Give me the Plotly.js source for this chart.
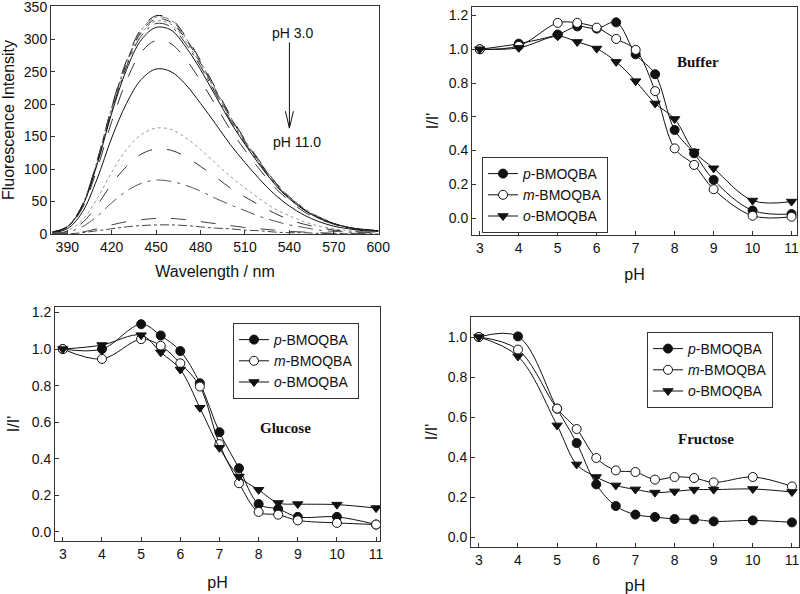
<!DOCTYPE html>
<html>
<head>
<meta charset="utf-8">
<script src="https://cdn.plot.ly/plotly-3.0.1.min.js"></script>
<style>
  html, body { margin: 0; padding: 0; background: #fff; }
  #plot { width: 800px; height: 594px; }
</style>
</head>
<body>
<div id="plot"></div>
<script>
// emission spectra, one per pH step (3.0 -> 11.0)
const wl = [380, 390, 400, 410, 420, 430, 440, 450, 460, 470, 480, 490, 500, 510, 520, 530, 540, 550, 560, 570, 580, 590, 600];
const sp30 = [3, 11, 44, 112, 196, 267, 316, 336, 331, 304, 267, 225, 183, 145, 112, 81, 57, 39, 26, 17, 10, 7, 5];
const sp40 = [3, 11, 44, 111, 195, 265, 314, 334, 329, 302, 265, 223, 181, 144, 111, 81, 57, 39, 26, 16, 10, 7, 5];
const sp50 = [3, 11, 43, 110, 193, 263, 311, 331, 326, 300, 263, 221, 180, 143, 110, 80, 57, 38, 25, 16, 10, 7, 5];
const sp55 = [3, 11, 43, 109, 191, 261, 309, 328, 323, 297, 261, 219, 178, 142, 109, 79, 56, 38, 25, 16, 10, 7, 5];
const sp60 = [3, 11, 42, 108, 189, 258, 305, 324, 319, 293, 258, 217, 176, 140, 108, 78, 55, 37, 25, 16, 10, 7, 5];
const sp65 = [3, 11, 42, 106, 186, 253, 299, 318, 314, 288, 253, 213, 173, 138, 106, 77, 54, 37, 24, 16, 10, 7, 5];
const sp70 = [2, 10, 39, 99, 173, 236, 280, 298, 293, 269, 236, 199, 161, 129, 99, 72, 51, 34, 23, 15, 9, 6, 4];
const sp75 = [2, 8, 33, 84, 148, 201, 238, 254, 250, 230, 201, 170, 138, 110, 84, 61, 43, 29, 19, 12, 8, 5, 4];
const sp80 = [1, 5, 21, 54, 95, 130, 153, 163, 161, 148, 130, 109, 89, 71, 54, 39, 28, 19, 12, 8, 5, 3, 2];
const sp85 = [1, 4, 17, 44, 77, 104, 123, 131, 129, 119, 104, 88, 71, 57, 44, 32, 22, 15, 10, 6, 4, 3, 2];
const sp90 = [1, 3, 11, 27, 48, 66, 78, 83, 81, 75, 66, 55, 45, 36, 27, 20, 14, 10, 6, 4, 3, 2, 1];
const sp100 = [0, 1, 3, 8, 14, 19, 22, 24, 24, 22, 19, 16, 13, 10, 8, 6, 4, 3, 2, 1, 1, 1, 0];
const sp110 = [0, 0, 2, 5, 8, 11, 13, 14, 14, 13, 11, 9, 8, 6, 5, 3, 2, 2, 1, 1, 0, 0, 0];

// I/I' versus pH
const pH = [3, 4, 5, 5.5, 6, 6.5, 7, 7.5, 8, 8.5, 9, 10, 11];
const bufP = [1.0, 1.033, 1.087, 1.135, 1.122, 1.159, 0.970, 0.852, 0.522, 0.384, 0.226, 0.045, 0.024];
const bufM = [1.0, 1.02, 1.156, 1.156, 1.128, 1.061, 0.996, 0.752, 0.413, 0.315, 0.171, 0.014, 0.008];
const bufO = [1.0, 1.008, 1.077, 1.043, 1.004, 0.925, 0.811, 0.679, 0.587, 0.394, 0.295, 0.104, 0.098];
const gluP = [1.0, 1.0, 1.136, 1.074, 0.989, 0.813, 0.545, 0.348, 0.152, 0.125, 0.082, 0.082, 0.040];
const gluM = [1.0, 0.946, 1.054, 1.018, 0.922, 0.795, 0.480, 0.266, 0.109, 0.094, 0.063, 0.049, 0.040];
const gluO = [1.0, 1.022, 1.076, 0.982, 0.888, 0.679, 0.460, 0.303, 0.230, 0.158, 0.152, 0.149, 0.130];
const fruP = [1.0, 1.003, 0.642, 0.470, 0.263, 0.155, 0.112, 0.100, 0.090, 0.088, 0.078, 0.083, 0.073];
const fruM = [1.0, 0.937, 0.642, 0.540, 0.395, 0.333, 0.325, 0.287, 0.300, 0.295, 0.273, 0.300, 0.253];
const fruO = [1.0, 0.903, 0.558, 0.363, 0.300, 0.258, 0.238, 0.222, 0.228, 0.237, 0.237, 0.240, 0.225];

const names = ['<i>p</i>-BMOQBA', '<i>m</i>-BMOQBA', '<i>o</i>-BMOQBA'];

const spectra = [sp30, sp40, sp50, sp55, sp60, sp65, sp70, sp75, sp80, sp85, sp90, sp100, sp110];
const specStyle = [
  ['longdash', '#111'], ['dashdot', '#777'], ['dash', '#222'], ['dot', '#888'],
  ['longdashdot', '#333'], ['solid', '#111'], ['longdash', '#333'], ['solid', '#111'],
  ['dot', '#999'], ['longdash', '#333'], ['longdashdot', '#555'], ['longdash', '#444'], ['dashdot', '#444']
];

const traces = spectra.map((s, i) => ({
  x: wl, y: s, xaxis: 'x', yaxis: 'y', mode: 'lines', showlegend: false,
  line: { color: specStyle[i][1], width: 1, dash: specStyle[i][0], shape: 'spline', smoothing: 1 }
}));

const markers = [
  { symbol: 'circle', size: 9, color: '#111', line: { color: '#111', width: 1 } },
  { symbol: 'circle', size: 9, color: '#fff', line: { color: '#111', width: 1 } },
  { symbol: 'triangle-down', size: 9, color: '#111', line: { color: '#111', width: 1 } }
];

function addSet(sets, ax, leg) {
  sets.forEach((ys, i) => traces.push({
    x: pH, y: ys, xaxis: 'x' + ax, yaxis: 'y' + ax, legend: leg,
    mode: 'lines+markers', name: names[i],
    line: { color: '#111', width: 1, shape: 'spline', smoothing: 1 },
    marker: markers[i]
  }));
}
addSet([bufP, bufM, bufO], 2, 'legend');
addSet([gluP, gluM, gluO], 3, 'legend2');
addSet([fruP, fruM, fruO], 4, 'legend3');

const tickFont = { family: 'Liberation Sans, Arial, sans-serif', size: 14, color: '#111' };
const titleFont = { family: 'Liberation Sans, Arial, sans-serif', size: 16, color: '#111' };

function ax(extra) {
  return Object.assign({
    showline: true, mirror: true, linecolor: '#333', linewidth: 1,
    ticks: 'inside', ticklen: 4, tickcolor: '#333', ticklabeloverflow: 'allow',
    showgrid: false, zeroline: false, tickfont: tickFont
  }, extra);
}
function px(x0, x1) { return [x0 / 800, x1 / 800]; }
function py(top, bot) { return [(594 - bot) / 594, (594 - top) / 594]; }

function legend(x, y) {
  return {
    x: x / 800, y: (594 - y) / 594, xanchor: 'left', yanchor: 'top',
    bgcolor: '#fff', bordercolor: '#333', borderwidth: 1,
    font: { family: 'Liberation Sans, Arial, sans-serif', size: 14, color: '#111' },
    tracegroupgap: 0
  };
}

const label = { family: 'Liberation Serif, Times New Roman, serif', size: 15, color: '#111' };

const layout = {
  width: 800, height: 594,
  margin: { l: 0, r: 0, t: 0, b: 0 },
  paper_bgcolor: '#fff', plot_bgcolor: '#fff',
  xaxis: ax({ domain: px(51, 379), anchor: 'y', range: [379, 600.5], tick0: 390, dtick: 30,
    title: { text: 'Wavelength / nm', font: titleFont, standoff: 12 } }),
  yaxis: ax({ domain: py(6, 234), anchor: 'x', range: [0, 351], dtick: 50,
    title: { text: 'Fluorescence Intensity', font: titleFont, standoff: 6 } }),
  xaxis2: ax({ domain: px(472, 797), anchor: 'y2', range: [2.8, 11.14], dtick: 1,
    title: { text: 'pH', font: titleFont, standoff: 14 } }),
  yaxis2: ax({ domain: py(7, 235), anchor: 'x2', range: [-0.1, 1.25], dtick: 0.2, tickformat: '.1f',
    title: { text: "I/I'", font: titleFont, standoff: 6 } }),
  xaxis3: ax({ domain: px(55, 380), anchor: 'y3', range: [2.8, 11.1], dtick: 1,
    title: { text: 'pH', font: titleFont, standoff: 16 } }),
  yaxis3: ax({ domain: py(307, 541), anchor: 'x3', range: [-0.05, 1.23], dtick: 0.2, tickformat: '.1f',
    title: { text: "I/I'", font: titleFont, standoff: 8 } }),
  xaxis4: ax({ domain: px(471, 799), anchor: 'y4', range: [2.8, 11.18], dtick: 1,
    title: { text: 'pH', font: titleFont, standoff: 15 } }),
  yaxis4: ax({ domain: py(317, 547), anchor: 'x4', range: [-0.05, 1.1], dtick: 0.2, tickformat: '.1f',
    title: { text: "I/I'", font: titleFont, standoff: 6 } }),
  legend: legend(482, 157),
  legend2: legend(233, 323),
  legend3: legend(647, 332),
  annotations: [
    { xref: 'x', yref: 'y', x: 542, y: 310, text: 'pH 3.0', showarrow: false,
      font: { family: 'Liberation Sans, Arial, sans-serif', size: 14, color: '#111' } },
    { xref: 'x', yref: 'y', x: 545, y: 141, text: 'pH 11.0', showarrow: false,
      font: { family: 'Liberation Sans, Arial, sans-serif', size: 14, color: '#111' } },
    { xref: 'x2', yref: 'y2', x: 8.6, y: 0.925, text: '<b>Buffer</b>', showarrow: false, font: label },
    { xref: 'x3', yref: 'y3', x: 8.68, y: 0.57, text: '<b>Glucose</b>', showarrow: false, font: label },
    { xref: 'x4', yref: 'y4', x: 8.8, y: 0.49, text: '<b>Fructose</b>', showarrow: false, font: label }
  ],
  shapes: [
    { type: 'path', xref: 'x', yref: 'y', path: 'M540,295 L540,163 M537.3,189 L540,163 L542.7,189',
      line: { color: '#111', width: 1 } }
  ]
};

Plotly.newPlot('plot', traces, layout, { displayModeBar: false, staticPlot: true });
</script>
</body>
</html>
